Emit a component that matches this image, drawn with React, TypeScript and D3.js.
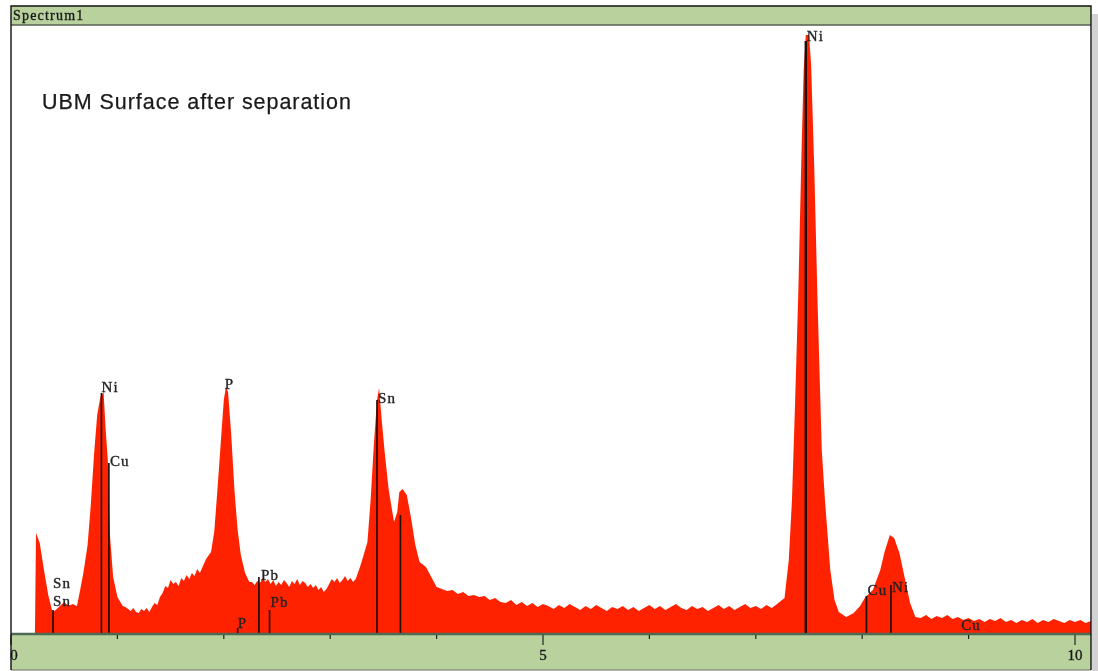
import * as d3 from "d3";

const energies = [
  0.225, 0.235, 0.27, 0.31, 0.35, 0.39, 0.42, 0.46, 0.5, 0.54,
  0.58, 0.62, 0.65, 0.68, 0.72, 0.75, 0.78, 0.81, 0.84, 0.87,
  0.89, 0.91, 0.93, 0.96, 1.0, 1.05,
  1.075, 1.1, 1.125, 1.15, 1.175, 1.2, 1.225, 1.25, 1.275, 1.3,
  1.325, 1.35, 1.375, 1.4, 1.425, 1.45, 1.475, 1.5, 1.525, 1.55,
  1.575, 1.6, 1.625, 1.65, 1.675, 1.7, 1.725, 1.75, 1.775, 1.8,
  1.825, 1.84, 1.88, 1.91, 1.94, 1.97, 2.0, 2.02, 2.04, 2.07,
  2.1, 2.13, 2.16, 2.2, 2.24,
  2.265, 2.29, 2.315, 2.34, 2.365, 2.39, 2.415, 2.44, 2.465, 2.49,
  2.515, 2.54, 2.565, 2.59, 2.615, 2.64, 2.665, 2.69, 2.715, 2.74,
  2.765, 2.79, 2.815, 2.84, 2.865, 2.89, 2.915, 2.94, 2.965, 2.99,
  3.015, 3.04, 3.065, 3.09, 3.115, 3.14, 3.165, 3.19, 3.215, 3.24,
  3.28, 3.32, 3.35, 3.38, 3.41, 3.44, 3.46, 3.48, 3.51, 3.55,
  3.6, 3.63, 3.65, 3.68, 3.72, 3.76, 3.8, 3.84, 3.9, 3.95, 4.0,
  4.05, 4.1, 4.15, 4.2, 4.25, 4.3, 4.35, 4.4, 4.45, 4.5,
  4.55, 4.6, 4.65, 4.7, 4.75, 4.8, 4.85, 4.9, 4.95, 5.0,
  5.05, 5.1, 5.15, 5.2, 5.25, 5.3, 5.35, 5.4, 5.45, 5.5,
  5.55, 5.6, 5.65, 5.7, 5.75, 5.8, 5.85, 5.9, 5.95, 6.0,
  6.05, 6.1, 6.15, 6.2, 6.25, 6.3, 6.35, 6.4, 6.45, 6.5,
  6.55, 6.6, 6.65, 6.7, 6.75, 6.8, 6.85, 6.9, 6.95, 7.0,
  7.05, 7.1, 7.15, 7.2,
  7.27, 7.31, 7.34, 7.37, 7.4, 7.43, 7.45, 7.47, 7.5, 7.52,
  7.55, 7.58, 7.62, 7.65, 7.7, 7.74, 7.78, 7.85, 7.92, 7.98,
  8.03, 8.1, 8.17, 8.21, 8.26, 8.3, 8.35, 8.4, 8.45, 8.5,
  8.55, 8.6, 8.65, 8.7, 8.75, 8.8, 8.85, 8.9, 8.95, 9.0,
  9.05, 9.1, 9.15, 9.2, 9.25, 9.3, 9.35, 9.4, 9.45, 9.5,
  9.55, 9.6, 9.65, 9.7, 9.75, 9.8, 9.85, 9.9, 9.95, 10.0,
  10.05, 10.1, 10.15,
];
const counts = [
  0, 100, 90, 63, 38, 21, 23, 27, 31, 27,
  29, 27, 43, 60, 88, 128, 178, 218, 236, 241,
  203, 173, 98, 56, 36, 27,
  26, 24, 22, 25, 21, 20, 24, 22, 25, 21,
  26, 30, 28, 36, 40, 47, 45, 53, 49, 51,
  47, 55, 52, 58, 54, 60, 57, 64, 60, 66,
  72, 75, 81, 101, 143, 188, 233, 246, 241, 198,
  143, 103, 78, 60, 51,
  51, 48, 52, 50, 55, 51, 54, 49, 53, 47,
  51, 48, 53, 50, 46, 52, 49, 54, 48, 52,
  50, 46, 49, 45, 48, 43, 46, 41, 44, 49,
  54, 51, 55, 50, 53, 57, 52, 55, 51, 54,
  66, 80, 91, 133, 188, 233, 245, 218, 183, 143,
  111, 121, 141, 144, 138, 115, 88, 71, 66, 56, 46,
  44, 42, 43, 39, 41, 37, 38, 36, 37, 33,
  35, 31, 30, 33, 28, 31, 27, 30, 26, 29,
  27, 24, 28, 25, 29, 26, 23, 27, 24, 28,
  25, 22, 26, 24, 27, 23, 26, 22, 25, 28,
  24, 27, 23, 26, 29, 25, 23, 27, 24, 26,
  22, 25, 28, 24, 27, 23, 26, 29, 25, 27,
  24, 28, 25, 29,
  35, 73, 133, 233, 343, 483, 563, 598, 598, 568,
  463, 333, 183, 133, 63, 33, 21, 16, 20, 27,
  36, 43, 63, 81, 98, 95, 80, 55, 30, 16,
  15, 18, 14, 17, 15, 18, 14, 16, 13, 15,
  12, 14, 11, 14, 12, 15, 11, 13, 10, 13,
  11, 14, 10, 13, 11, 14, 12, 10, 13, 11,
  13, 10, 12,
];

const tickValues = [0, 1, 2, 3, 4, 5, 6, 7, 8, 9, 10];
const tickLabels = ["0", "5", "10"];

const markerNames = ["Sn", "Sn", "Ni", "Cu", "P", "P", "Pb", "Pb", "Sn", "", "Ni", "Cu", "Ni", "Cu"];
const markerEnergies = [0.395, 0.395, 0.85, 0.92, 2.01, 2.13, 2.33, 2.43, 3.44, 3.66, 7.47, 8.04, 8.27, 8.93];
const markerHeights = [48, 23, 240, 170, 246, 5, 56, 23, 233, 118, 592, 37, 48, 4];
// label offsets from the top of each marker
const labelDx = [0, 0, 0, 1, 0, 0, 2, 1, 1, 0, 1, 1, 1, 0];
const labelDy = [3, -4, -1, 3, 2, 0, 3, -3, 3, 0, 0, -1, 7, 1];
const hiddenLines = [true, false, false, false, true, false, false, false, false, false, false, false, false, true];

const WIDTH = 1098;
const HEIGHT = 671;
const left = 11;
const right = 1091;
const base = 633;
const top = 26;

export default function App() {
  const x = d3.scaleLinear().domain([0, 10]).range([left, 1075]);
  const y = d3.scaleLinear().domain([0, 607]).range([base, top]);
  const points = energies.map((e, i) => [e, counts[i]] as [number, number]);
  const area = d3.area<[number, number]>()
    .x(d => x(d[0]))
    .y0(base)
    .y1(d => y(d[1]));

  return (
    <svg
      width={WIDTH}
      height={HEIGHT}
      style={{ position: "absolute", left: 0, top: 0, background: "#fff" }}
    >
      <defs>
        <filter id="soft" x="-2%" y="-2%" width="104%" height="104%">
          <feGaussianBlur stdDeviation="0.55" />
        </filter>
      </defs>
      <rect x={1092} y={14} width={6} height={657} fill="#d2d2d2" />
      <g filter="url(#soft)">
        <rect x={left} y={6} width={right - left} height={19} fill="#b9d29d" />
        <rect x={left} y={635} width={right - left} height={35} fill="#b9d29d" />
        <path d={area(points) ?? ""} fill="#ff2400" />
        {markerNames.map((name, i) => (
          <g key={i}>
            {!hiddenLines[i] && (
              <line
                x1={x(markerEnergies[i])}
                x2={x(markerEnergies[i])}
                y1={base}
                y2={y(markerHeights[i])}
                stroke="#1c0703"
                strokeWidth={i === 10 ? 2.4 : 1.6}
              />
            )}
            <text
              x={x(markerEnergies[i]) + labelDx[i]}
              y={y(markerHeights[i]) + labelDy[i]}
              fontFamily="'Liberation Serif', serif"
              fontSize={15}
              letterSpacing={1.2}
              fill="#222"
              stroke="#222"
              strokeWidth={0.35}
            >
              {name}
            </text>
          </g>
        ))}
        <line x1={left} x2={right} y1={634} y2={634} stroke="#4d6a55" strokeWidth={2.4} />
        <line x1={left} x2={right} y1={25} y2={25} stroke="#55604f" strokeWidth={1.6} />
        <line x1={left} x2={right} y1={670} y2={670} stroke="#6f6f6f" strokeWidth={1.2} />
        {tickValues.map(t => (
          <line
            key={t}
            x1={x(t)}
            x2={x(t)}
            y1={635}
            y2={t % 5 === 0 ? 645 : 639}
            stroke="#222"
            strokeWidth={1.2}
          />
        ))}
        {tickLabels.map(t => (
          <text
            key={t}
            x={x(+t) + (t === "0" ? 3 : 0)}
            y={660}
            textAnchor="middle"
            fontFamily="'Liberation Serif', serif"
            fontSize={15}
            fill="#1a1a1a"
            stroke="#1a1a1a"
            strokeWidth={0.35}
          >
            {t}
          </text>
        ))}
        <text
          x={13}
          y={20}
          fontFamily="'Liberation Serif', serif"
          fontSize={14}
          letterSpacing={1.2}
          fill="#1a1a1a"
          stroke="#1a1a1a"
          strokeWidth={0.35}
        >
          Spectrum1
        </text>
        <text
          x={42}
          y={109}
          fontFamily="'Liberation Sans', sans-serif"
          fontSize={21.5}
          letterSpacing={0.95}
          fill="#1a1a1a"
          stroke="#1a1a1a"
          strokeWidth={0.25}
        >
          UBM Surface after separation
        </text>
      </g>
      <path
        d={`M${left},670V6H${right}V670`}
        fill="none"
        stroke="#111"
        strokeWidth={1.4}
      />
    </svg>
  );
}
